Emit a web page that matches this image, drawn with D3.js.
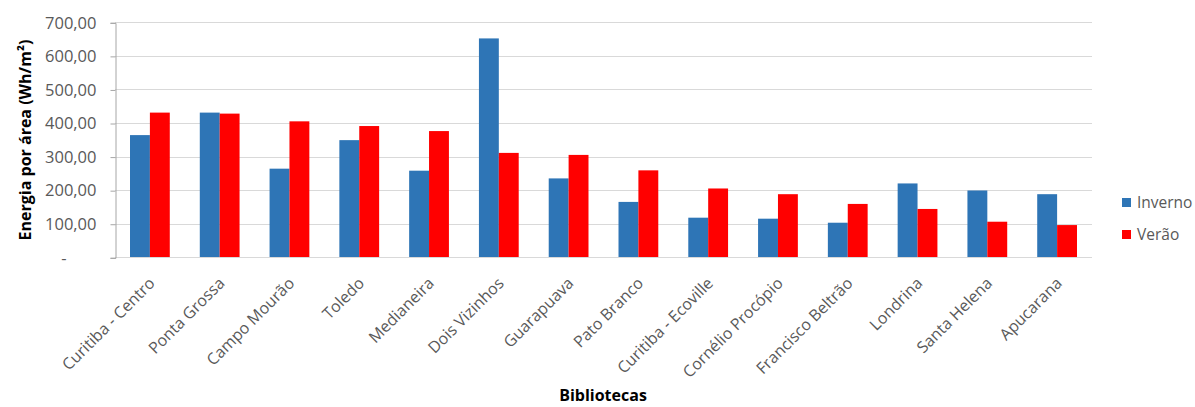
<!DOCTYPE html>
<html><head><meta charset="utf-8">
<script src="https://cdn.jsdelivr.net/npm/d3@7"></script>
<style>
body{margin:0;background:#fff;}
svg{display:block;font-family:"Open Sans",sans-serif;}
</style></head>
<body><svg id="c" width="1195" height="407"></svg>
<script>
const categories = ["Curitiba - Centro","Ponta Grossa","Campo Mourão","Toledo","Medianeira","Dois Vizinhos","Guarapuava","Pato Branco","Curitiba - Ecoville","Cornélio Procópio","Francisco Beltrão","Londrina","Santa Helena","Apucarana"];
const inverno = [364,431,264,349,258,652,235,165,118,115,103,220,199,188];
const verao   = [431,428,405,391,376,311,305,259,205,188,159,144,106,96];
const seriesNames = ["Inverno","Verão"];
const yTicks = [0,100,200,300,400,500,600,700];

const colors = ["#2E75B6","#FF0000"];
const svg = d3.select("#c");
const m = {left:115, right:1092, top:22.3, bottom:257.3};

const pin = 0.43;
const x = d3.scaleBand().domain(categories).range([m.left, m.right]).paddingInner(pin).paddingOuter(pin/2);
const xs = d3.scaleBand().domain(seriesNames).range([0, x.bandwidth()]);
const y = d3.scaleLinear().domain([0,700]).range([m.bottom, m.top]);

// gridlines
svg.append("g").selectAll("line").data(yTicks.filter(d=>d>0)).join("line")
  .attr("x1", m.left).attr("x2", m.right)
  .attr("y1", d=>Math.round(y(d))+0.5).attr("y2", d=>Math.round(y(d))+0.5)
  .attr("stroke","#d9d9d9").attr("stroke-width",1);

// bars
const data = categories.map((c,i)=>({c, vals:[inverno[i], verao[i]]}));
const g = svg.append("g");
g.selectAll("g").data(data).join("g")
  .attr("transform", d=>`translate(${x(d.c)},0)`)
  .selectAll("rect").data(d=>d.vals.map((v,j)=>({s:seriesNames[j], v, j}))).join("rect")
  .attr("x", d=>xs(d.s)).attr("width", xs.bandwidth())
  .attr("y", d=>y(d.v)).attr("height", d=>y(0)-y(d.v))
  .attr("fill", d=>colors[d.j]);

// x axis baseline
svg.append("line").attr("x1", m.left).attr("x2", m.right)
  .attr("y1", Math.round(y(0))+0.5).attr("y2", Math.round(y(0))+0.5)
  .attr("stroke","#d9d9d9");

// y axis
const yAxis = d3.axisLeft(y).tickValues(yTicks).tickSize(5).tickPadding(14)
  .tickFormat(d => d===0 ? "-       " : d3.format(".2f")(d).replace(".",","));
const ya = svg.append("g").attr("transform", `translate(${m.left+0.5},0.5)`).call(yAxis);
ya.select(".domain").attr("stroke","#a6a6a6");
ya.selectAll(".tick line").attr("stroke","#a6a6a6");
ya.selectAll("text").attr("fill","#595959").style("font-size","16.5px")
  .style("font-family","'Open Sans',sans-serif").style("white-space","pre");

// x labels
svg.append("g").selectAll("text").data(categories).join("text")
  .attr("transform", d=>`translate(${x(d)+x.bandwidth()/2+6},${m.bottom+27}) rotate(-45)`)
  .attr("text-anchor","end")
  .attr("fill","#595959").style("font-size","16px")
  .text(d=>d);

// axis titles
svg.append("text").attr("transform","translate(31,140) rotate(-90)")
  .attr("text-anchor","middle").style("font-size","16px").style("font-weight","bold").attr("fill","#000")
  .text("Energia por área (Wh/m²)");
svg.append("text").attr("x", 603).attr("y", 401).attr("text-anchor","middle")
  .style("font-size","16px").style("font-weight","bold").attr("fill","#000").text("Bibliotecas");

// legend
const leg = svg.append("g").selectAll("g").data(seriesNames).join("g")
  .attr("transform",(d,i)=>`translate(1122,${198+i*32})`);
leg.append("rect").attr("width",9).attr("height",9).attr("fill",(d,i)=>colors[i]);
leg.append("text").attr("x",15).attr("y",4.5).attr("dy","0.35em").attr("fill","#595959")
  .style("font-size","15.5px").text(d=>d);
</script></body></html>
